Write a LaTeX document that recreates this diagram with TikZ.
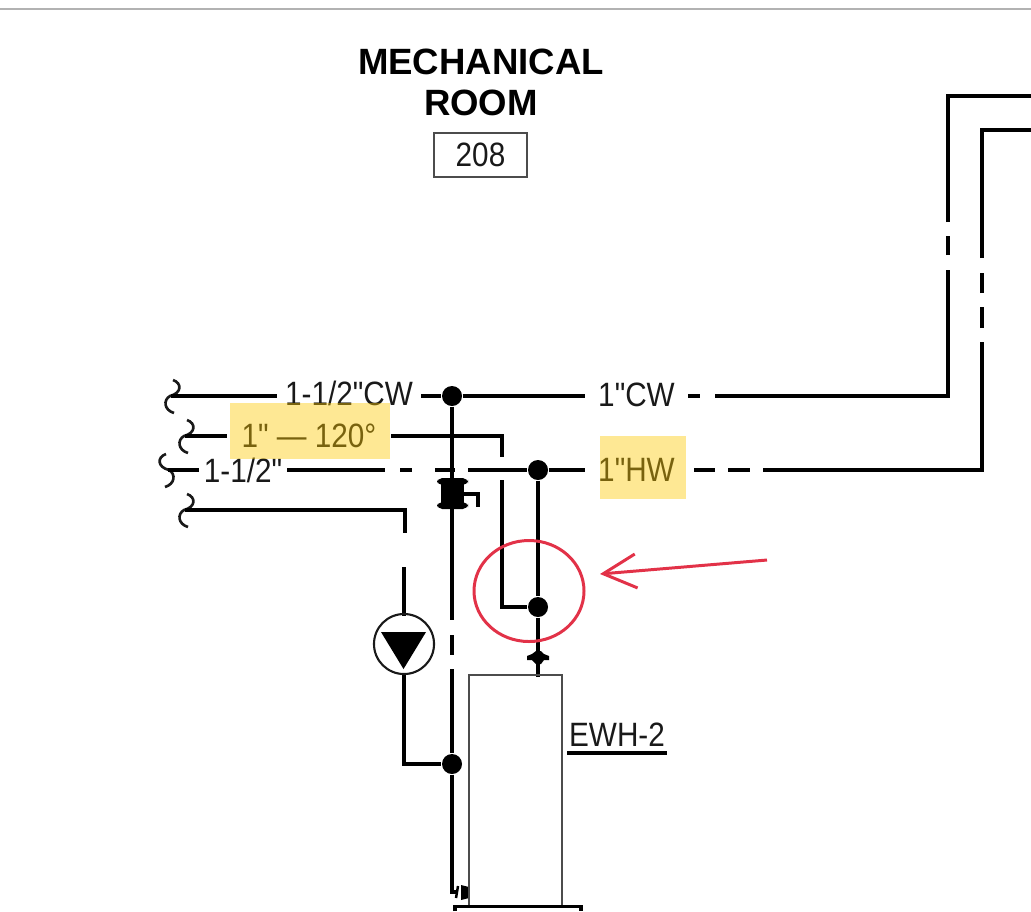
\documentclass[tikz,border=0pt]{standalone}
\usepackage{fontspec}
\setmainfont{Liberation Sans}
\newfontfamily\labelfont[FakeStretch=0.88]{Liberation Sans}
\usetikzlibrary{arrows.meta}

\tikzset{
	pipe/.style={line width=1.05pt, black},
	thinline/.style={line width=0.5pt, black!70},
	junction/.style={circle, fill=black, inner sep=0pt, minimum size=0.2cm},
	pipelabel/.style={font=\labelfont\fontsize{9.6}{11}\selectfont, text=black!90, inner ysep=0pt},
	titlelabel/.style={font=\bfseries\fontsize{10.4}{12}\selectfont, text=black, inner sep=0pt},
	highlight/.style={fill=marker, fill opacity=0.42},
	pipebreak/.pic={
		\draw[line width=0.75pt, black!90] (2,-16) .. controls (11,-13) and (11,-3) .. (-1,0) .. controls (-8,4) and (-7,14) .. (3,17);
	}
}

\begin{document}
\begin{tikzpicture}[x=0.01cm, y=-0.01cm]
	\definecolor{marker}{RGB}{252,200,0}
	\definecolor{markup}{RGB}{226,50,72}
	\useasboundingbox (0,0) rectangle (1031,911);
	
	\draw[line width=0.55pt, black!30] (0,9) -- (1031,9);
	
	\node[titlelabel] (title1) at (481,62) {MECHANICAL};
	\node[titlelabel] (title2) at (481,103) {ROOM};
	\node[draw, thinline, pipelabel, text=black!90, text width=0.95cm-0.5pt, align=center, minimum height=0.44cm, inner xsep=0pt] (roomtag) at (480.5,155) {208};
	
	% junctions
	\node[junction] (jcw) at (452,396) {};
	\node[junction] (jhw) at (538,470) {};
	\node[junction] (jtank) at (538,607) {};
	\node[junction] (jpump) at (452,764) {};
	
	% labels on the pipes
	\node[pipelabel, inner xsep=2.2pt] (cwmain) at (349,393) {1-1/2"CW};
	\node[pipelabel, inner xsep=3.5pt] (cwsmall) at (636.5,395) {1"CW};
	\node[pipelabel, inner xsep=4pt] (hwtemp) at (309,436) {1" — 120°};
	\node[pipelabel, inner xsep=1.2pt] (hwmain) at (243,470) {1-1/2"};
	\node[pipelabel, inner xsep=3.5pt] (hwsmall) at (636.5,470) {1"HW};
	\node[pipelabel, inner sep=0pt] (tanktag) at (617,735) {EWH-2};
	
	\path (171,396) pic {pipebreak} coordinate (cwend);
	\path (185,436) pic {pipebreak} coordinate (tempend);
	\path (168,470) pic[xscale=-1] {pipebreak} coordinate (hwend);
	\path (185,510) pic {pipebreak} coordinate (recircend);
	
	% cold water
	\draw[pipe] (cwend) -- (cwmain.west |- cwend);
	\draw[pipe] (cwmain.east |- jcw) -- (jcw);
	\draw[pipe] (jcw) -- (cwsmall.west |- jcw);
	\draw[pipe] (688,396) -- (700,396);
	\draw[pipe] (715,396) -- (948,396) -- (948,270);
	\draw[pipe] (948,255) -- (948,236);
	\draw[pipe] (948,222) -- (948,96) -- (1031,96);
	
	% hot water
	\draw[pipe] (hwend) -- (hwmain.west |- hwend);
	\draw[pipe] (287,470) -- (385,470);
	\foreach \a/\b in {400/412, 435/455} {
		\draw[pipe] (\a,470) -- (\b,470);
	}
	\draw[pipe] (468,470) -- (jhw);
	\draw[pipe] (jhw) -- (hwsmall);
	\foreach \a/\b in {694/715, 728/750} {
		\draw[pipe] (\a,470) -- (\b,470);
	}
	\draw[pipe] (763,470) -- (982,470) -- (982,342);
	\foreach \a/\b in {328/307, 293/273} {
		\draw[pipe] (982,\a) -- (982,\b);
	}
	\draw[pipe] (982,258) -- (982,130) -- (1031,130);
	
	% tempered line
	\draw[pipe] (tempend) -- (hwtemp);
	\draw[pipe] (hwtemp) -- (502,436) -- (502,457);
	\draw[pipe] (502,480) |- (jtank);
	\draw[pipe] (jhw) -- (jtank);
	\draw[pipe] (jtank) -- (538,677);
	
	% recirculation
	\draw[pipe] (recircend) -- (405,510) -- (405,533);
	\draw[pipe] (404,567) -- (404,616);
	\node[circle, draw, line width=0.6pt, black!90, minimum size=0.6cm, inner sep=0pt] (pump) at (404,644) {};
	\fill[black] (381,632) -- (426,632) -- (403.5,669) -- cycle;
	\draw[pipe] (pump) -- (404,764) -- (jpump);
	
	% riser
	\draw[pipe] (jcw) -- (452,480);
	\draw[pipe] (452,508) -- (452,620);
	\draw[pipe] (452,635) -- (452,655);
	\draw[pipe] (452,669) -- (jpump);
	\draw[pipe] (jpump) -- (452,892) -- (456,892);
	
	% mixing valve
	\fill[black, rounded corners=1.5pt] (437,478) rectangle (468,485);
	\fill[black, rounded corners=1.5pt] (437,502) rectangle (468,509);
	\fill[black] (441,482) rectangle (464,505);
	\draw[line width=1.2pt] (462,494) -- (478,494) -- (478,507);
	
	% small fittings
	\fill[black] (527,656) -- (532,654) -- (536,651) -- (541,651) -- (544,654) -- (549,656) -- (549,660) -- (544,660) -- (541,664) -- (536,664) -- (532,660) -- (527,660) -- cycle;
	\fill[black] (461,885) -- (469,887) -- (469,898) -- (461,900) -- cycle;
	\draw[line width=0.7pt] (458,886) -- (456,898);
	
	% water heater
	\draw[thinline] (469,906) -- (469,675) -- (562,675) -- (562,906);
	\draw[pipe] (455,911) -- (455,906.5) -- (581,906.5) -- (581,911);
	\draw[line width=0.9pt, black] (567,753) -- (667,753);
	
	% markup
	\draw[markup, line width=0.85pt] (529,591) ellipse [x radius=55, y radius=50.5];
	\coordinate (markfrom) at (767,560);
	\coordinate (markto) at (600,574);
	\draw[markup, line width=0.85pt, -{Straight Barb[length=0.33cm, width=0.34cm]}] (markfrom) -- (markto);
	
	\fill[highlight] (229.5,402.5) rectangle (390,459);
	\fill[highlight] (599.5,436) rectangle (686,499);
\end{tikzpicture}
\end{document}
